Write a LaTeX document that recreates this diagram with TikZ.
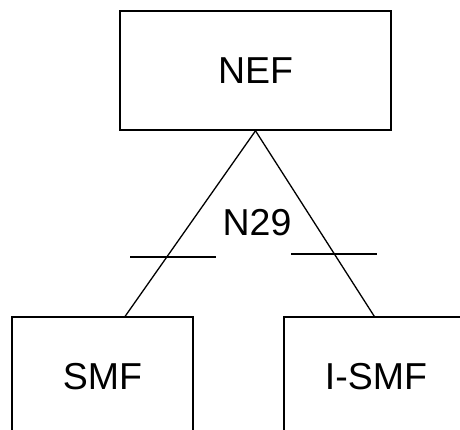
\documentclass[tikz,border=0pt]{standalone}
\usepackage{fontspec}
\setmainfont{Liberation Sans}
\begin{document}
\begin{tikzpicture}[x=1pt,y=-1pt,
  box/.style={draw=black,line width=1.6pt,minimum width=#1,inner sep=0pt,font=\fontsize{37.5}{42}\selectfont},
  conn/.style={line width=1.3pt},
  lbl/.style={font=\fontsize{37.5}{42}\selectfont,inner sep=0pt}]
\useasboundingbox (0,0) rectangle (460,430);
\clip (0,0) rectangle (460,430);
\node[box=271pt,minimum height=119pt] (NEF) at (255.5,70.5) {NEF};
\node[box=181pt,minimum height=120pt] (SMF) at (102.5,377) {SMF};
\node[box=184pt,minimum height=120pt] (ISMF) at (376,377) {I-SMF};
\node[lbl] (N29) at (257,223) {N29};
\draw[conn] (NEF.south) -- ([xshift=114pt]SMF.north west);
\draw[conn] (NEF.south) -- ([xshift=91pt]ISMF.north west);
\coordinate (t1a) at (130,257);
\coordinate (t1b) at (216,257);
\coordinate (t2a) at (291,254);
\coordinate (t2b) at (377,254);
\draw[conn] (t1a) -- (t1b);
\draw[conn] (t2a) -- (t2b);
\end{tikzpicture}
\end{document}
